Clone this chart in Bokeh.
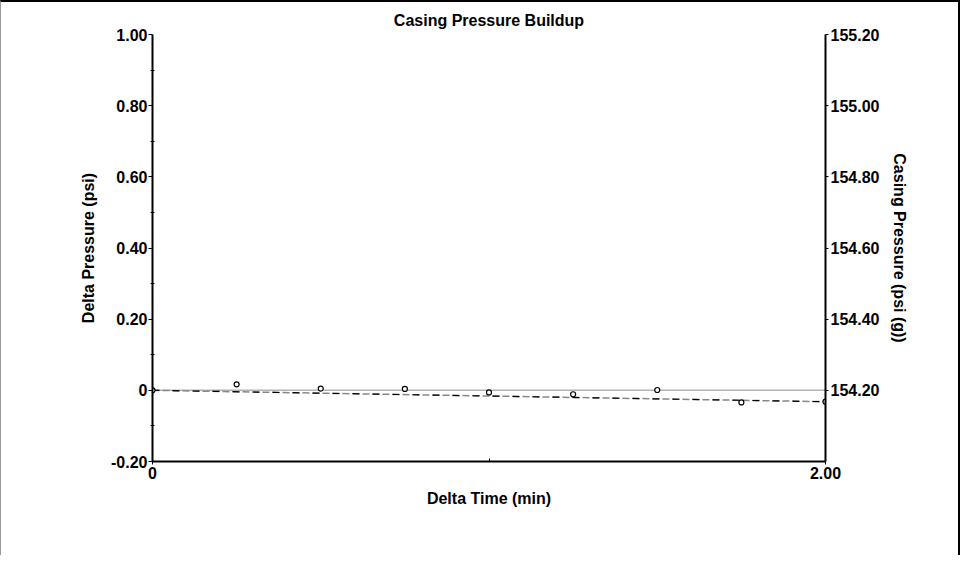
from bokeh.plotting import figure
from bokeh.models import LinearAxis, Range1d, FixedTicker, CustomJSTickFormatter, ColumnDataSource
from bokeh.embed import file_html
from bokeh.resources import INLINE

# ---- data ----
title_text = "Casing Pressure Buildup"
delta_time = [0.0, 0.25, 0.5, 0.75, 1.0, 1.25, 1.5, 1.75, 2.0]
delta_pressure = [0.0, 0.017, 0.005, 0.004, -0.006, -0.011, 0.001, -0.034, -0.032]
trend_time = [0.0, 2.0]
trend_pressure = [0.0, -0.032]
zero_time = [0.0, 2.0]
zero_pressure = [0.0, 0.0]
left_ticks = [-0.2, 0.0, 0.2, 0.4, 0.6, 0.8, 1.0]
left_minor = [-0.1, 0.1, 0.3, 0.5, 0.7, 0.9]
right_ticks = [154.2, 154.4, 154.6, 154.8, 155.0, 155.2]
x_ticks = [0.0, 2.0]
x_minor = [1.0]
base_casing_pressure = 154.2

FONT = "Liberation Sans"
FS = "16px"

p = figure(width=960, height=555, output_backend="svg", toolbar_location=None,
           x_range=Range1d(0, 2), y_range=Range1d(-0.2, 1.0),
           min_border_left=151, min_border_right=136, min_border_top=32, min_border_bottom=96,
           title=title_text)
p.styles = {"border-top": "2px solid black", "border-right": "2px solid black",
            "border-left": "1px solid #999999"}
p.background_fill_color = "white"
p.border_fill_color = "white"
p.outline_line_color = None
p.xgrid.visible = False
p.ygrid.visible = False

p.title.align = "center"
p.title.text_font = FONT
p.title.text_font_size = FS
p.title.text_font_style = "bold"
p.title.text_color = "black"
p.title.standoff = 12

fmt = CustomJSTickFormatter(code="return Math.abs(tick) < 1e-9 ? '0' : tick.toFixed(2);")

def style_axis(ax):
    ax.axis_line_color = "black"
    ax.axis_line_width = 2
    ax.major_tick_line_color = "black"
    ax.major_tick_line_width = 1
    ax.minor_tick_line_color = "black"
    ax.major_label_text_font = FONT
    ax.major_label_text_font_size = FS
    ax.major_label_text_font_style = "bold"
    ax.major_label_text_color = "black"
    ax.axis_label_text_font = FONT
    ax.axis_label_text_font_size = FS
    ax.axis_label_text_font_style = "bold"
    ax.axis_label_text_color = "black"

# bottom axis
xa = p.xaxis[0]
style_axis(xa)
xa.ticker = FixedTicker(ticks=x_ticks, minor_ticks=x_minor)
xa.formatter = fmt
xa.axis_label = "Delta Time (min)"
xa.major_tick_in = 0
xa.major_tick_out = 3
xa.minor_tick_in = 3
xa.minor_tick_out = 0
xa.major_label_standoff = 2
xa.axis_label_standoff = 8

# left axis
ya = p.yaxis[0]
style_axis(ya)
ya.ticker = FixedTicker(ticks=left_ticks, minor_ticks=left_minor)
ya.formatter = fmt
ya.axis_label = "Delta Pressure (psi)"
ya.major_tick_in = 0
ya.major_tick_out = 4
ya.minor_tick_in = 2
ya.minor_tick_out = 2
ya.major_label_standoff = 1
ya.axis_label_standoff = 11

# right axis
p.extra_y_ranges = {"casing": Range1d(-0.2 + base_casing_pressure, 1.0 + base_casing_pressure)}
ra = LinearAxis(y_range_name="casing", axis_label="Casing Pressure (psi (g))")
style_axis(ra)
ra.ticker = FixedTicker(ticks=right_ticks, minor_ticks=[])
ra.formatter = CustomJSTickFormatter(code="return tick.toFixed(2);")
ra.major_tick_in = 0
ra.major_tick_out = 3
ra.minor_tick_in = 0
ra.minor_tick_out = 0
ra.major_label_standoff = 2
ra.axis_label_standoff = 9
p.add_layout(ra, "right")

# zero reference line
p.line(zero_time, zero_pressure, line_color="#666666", line_width=1.5, line_dash="1 1")
# trend line (gray + black dashes)
p.line(trend_time, trend_pressure, line_color="#888888", line_width=1.5, line_dash="7 3")
p.line(trend_time, trend_pressure, line_color="black", line_width=1.2, line_dash="7 13")
# measured points
src = ColumnDataSource(dict(x=delta_time, y=delta_pressure))
p.scatter("x", "y", source=src, marker="circle", size=5, fill_color="white",
          line_color="black", line_width=1.2)

open("out.html", "w").write(file_html(p, INLINE))
